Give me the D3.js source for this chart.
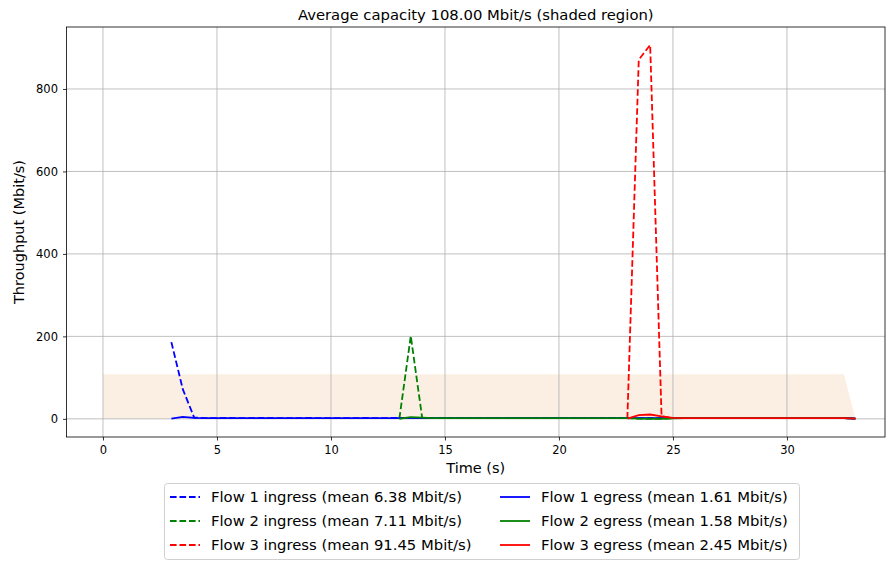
<!DOCTYPE html>
<html>
<head>
<meta charset="utf-8">
<script src="https://cdn.jsdelivr.net/npm/d3@7"></script>
<style>
  body { margin: 0; background: #fff; }
  text { font-family: "DejaVu Sans", sans-serif; }
</style>
</head>
<body>
<div id="chart"></div>
<script>
// Throughput samples every 0.5 s, each flow starts at its own time
var step = 0.5;
var flowStart = [3.0, 13.0, 23.0];

var flow1Ingress = [186, 72, 3.2, 2.0, 1.9, 2.1, 1.8, 2.0, 2.2, 1.9, 2.0, 1.8, 2.1, 1.9, 2.0, 2.0, 1.8,
  2.1, 1.9, 2.0, 2.2, 1.8, 1.9, 2.0, 2.1, 1.9, 1.8, 2.0, 2.1, 1.9, 2.0, 1.8, 2.0, 2.1, 1.9, 2.0,
  1.9, 2.0, 1.8, 2.1, 1.9, 2.0, 2.0, 1.8, 1.9, 2.1, 2.0, 1.9, 1.8, 2.0, 2.1, 1.9, 2.0, 1.8, 2.0,
  2.1, 1.9, 2.0, 1.9, 1.8, 0.8];
var flow1Egress = [0.6, 5.0, 2.2, 1.9, 1.8, 2.0, 1.8, 1.9, 2.0, 1.8, 1.9, 1.8, 2.0, 1.8, 1.9, 1.9, 1.8,
  2.0, 1.8, 1.9, 2.0, 1.8, 1.8, 1.9, 2.0, 1.8, 1.8, 1.9, 2.0, 1.8, 1.9, 1.8, 1.9, 2.0, 1.8, 1.9,
  1.8, 1.9, 1.8, 2.0, 1.8, 1.9, 1.9, 1.8, 1.8, 2.0, 1.9, 1.8, 1.8, 1.9, 2.0, 1.8, 1.9, 1.8, 1.9,
  2.0, 1.8, 1.9, 1.8, 1.8, 0.6];
var flow2Ingress = [0.5, 201, 2.6, 1.9, 2.0, 1.8, 2.1, 1.9, 2.0, 1.8, 1.9, 2.1, 2.0, 1.8, 1.9, 2.0,
  2.1, 1.9, 1.8, 2.0, 1.9, 0.6, 0.4, 0.5, 1.6, 1.9, 2.0, 1.8, 2.1, 1.9, 2.0, 1.8, 1.9, 2.0, 2.1,
  1.9, 1.8, 2.0, 1.9, 1.8, 0.7];
var flow2Egress = [0.3, 4.0, 3.0, 1.8, 1.9, 1.8, 2.0, 1.8, 1.9, 1.8, 1.8, 2.0, 1.9, 1.8, 1.8, 1.9,
  2.0, 1.8, 1.8, 1.9, 1.8, 0.4, 0.2, 0.3, 1.4, 1.8, 1.9, 1.8, 2.0, 1.8, 1.9, 1.8, 1.8, 1.9, 2.0,
  1.8, 1.8, 1.9, 1.8, 1.8, 0.6];
var flow3Ingress = [0.5, 871, 907, 6.0, 2.3, 1.9, 2.0, 1.8, 2.1, 1.9, 2.0, 1.8, 1.9, 2.1, 2.0, 1.8,
  1.9, 2.0, 1.9, 1.8, 0.8];
var flow3Egress = [0.4, 9.0, 10.5, 6.0, 2.6, 2.0, 1.9, 2.0, 1.9, 2.0, 1.9, 2.0, 1.9, 2.0, 2.0, 1.9,
  1.9, 2.0, 1.9, 1.8, 0.5];

// Link capacity (shaded area)
var capacityTime = [0, 32.5, 33.0];
var capacityValue = [108, 108, 1];

var xTicks = [0, 5, 10, 15, 20, 25, 30];
var yTicks = [0, 200, 400, 600, 800];

var flowColours = ["#0000ff", "#008000", "#ff0000"];
var ingressNames = ["Flow 1 ingress (mean 6.38 Mbit/s)", "Flow 2 ingress (mean 7.11 Mbit/s)", "Flow 3 ingress (mean 91.45 Mbit/s)"];
var egressNames = ["Flow 1 egress (mean 1.61 Mbit/s)", "Flow 2 egress (mean 1.58 Mbit/s)", "Flow 3 egress (mean 2.45 Mbit/s)"];

var width = 886, height = 563;
var plot = {left: 66.5, right: 885, top: 27, bottom: 437};
var lineWidth = 1.8, dash = "6.6,2.9";

var svg = d3.select("#chart").append("svg")
  .attr("width", width).attr("height", height);

var x = d3.scaleLinear().domain([-1.6, 34.3]).range([plot.left, plot.right]);
var y = d3.scaleLinear().domain([-44, 950.3]).range([plot.bottom, plot.top]);

// turn a value array into points using the flow start time
function toPoints(values, start) {
  return values.map(function (v, i) { return {t: start + i * step, v: v}; });
}

// shaded capacity region
var capArea = d3.area()
  .x(function (d) { return x(d.t); })
  .y0(y(0)).y1(function (d) { return y(d.v); });
svg.append("path")
  .datum(capacityTime.map(function (t, i) { return {t: t, v: capacityValue[i]}; }))
  .attr("d", capArea)
  .attr("fill", "#fbefe4");

// grid
svg.append("g").selectAll("line").data(xTicks).enter().append("line")
  .attr("x1", function (d) { return x(d); }).attr("x2", function (d) { return x(d); })
  .attr("y1", plot.top).attr("y2", plot.bottom)
  .attr("stroke", "#b0b0b0").attr("stroke-width", 0.8);
svg.append("g").selectAll("line").data(yTicks).enter().append("line")
  .attr("y1", function (d) { return y(d); }).attr("y2", function (d) { return y(d); })
  .attr("x1", plot.left).attr("x2", plot.right)
  .attr("stroke", "#b0b0b0").attr("stroke-width", 0.8);

// flows: all ingress first, then egress
var line = d3.line().x(function (d) { return x(d.t); }).y(function (d) { return y(d.v); });
var ingress = [flow1Ingress, flow2Ingress, flow3Ingress];
var egress = [flow1Egress, flow2Egress, flow3Egress];

ingress.forEach(function (vals, i) {
  svg.append("path").datum(toPoints(vals, flowStart[i]))
    .attr("d", line).attr("fill", "none")
    .attr("stroke", flowColours[i]).attr("stroke-width", lineWidth)
    .attr("stroke-dasharray", dash);
});
egress.forEach(function (vals, i) {
  svg.append("path").datum(toPoints(vals, flowStart[i]))
    .attr("d", line).attr("fill", "none")
    .attr("stroke", flowColours[i]).attr("stroke-width", lineWidth);
});

// axes
var xAxis = svg.append("g").attr("transform", "translate(0," + plot.bottom + ")")
  .call(d3.axisBottom(x).tickValues(xTicks).tickSize(3.5).tickPadding(5));
var yAxis = svg.append("g").attr("transform", "translate(" + plot.left + ",0)")
  .call(d3.axisLeft(y).tickValues(yTicks).tickSize(3.5).tickPadding(5));
[xAxis, yAxis].forEach(function (a) {
  a.select(".domain").remove();
  a.selectAll("text").attr("font-size", "11.5px").attr("fill", "#000")
    .style("font-family", "DejaVu Sans, sans-serif");
  a.selectAll("line").attr("stroke", "#000").attr("stroke-width", 0.8);
});

// frame
svg.append("rect").attr("x", plot.left).attr("y", plot.top)
  .attr("width", plot.right - plot.left).attr("height", plot.bottom - plot.top)
  .attr("fill", "none").attr("stroke", "#000").attr("stroke-width", 0.8);

// titles
svg.append("text").text("Average capacity 108.00 Mbit/s (shaded region)")
  .attr("x", (plot.left + plot.right) / 2).attr("y", 20)
  .attr("text-anchor", "middle").attr("font-size", "14.8px");
svg.append("text").text("Time (s)")
  .attr("x", (plot.left + plot.right) / 2).attr("y", 473)
  .attr("text-anchor", "middle").attr("font-size", "14.5px");
svg.append("text").text("Throughput (Mbit/s)")
  .attr("transform", "translate(24," + ((plot.top + plot.bottom) / 2) + ") rotate(-90)")
  .attr("text-anchor", "middle").attr("font-size", "14.5px");

// legend, two columns
var legend = svg.append("g");
legend.append("rect").attr("x", 164.5).attr("y", 483.5).attr("width", 635).attr("height", 76)
  .attr("rx", 3).attr("fill", "#fff").attr("stroke", "#d0d0d0").attr("stroke-width", 1);
var rows = [497, 521, 545];
var columns = [{x: 170, names: ingressNames, dash: dash}, {x: 500, names: egressNames, dash: null}];
columns.forEach(function (col) {
  col.names.forEach(function (name, i) {
    legend.append("line")
      .attr("x1", col.x).attr("x2", col.x + 30)
      .attr("y1", rows[i]).attr("y2", rows[i])
      .attr("stroke", flowColours[i]).attr("stroke-width", lineWidth)
      .attr("stroke-dasharray", col.dash);
    legend.append("text").text(name)
      .attr("x", col.x + 41).attr("y", rows[i] + 5)
      .attr("font-size", "14.8px");
  });
});
</script>
</body>
</html>
